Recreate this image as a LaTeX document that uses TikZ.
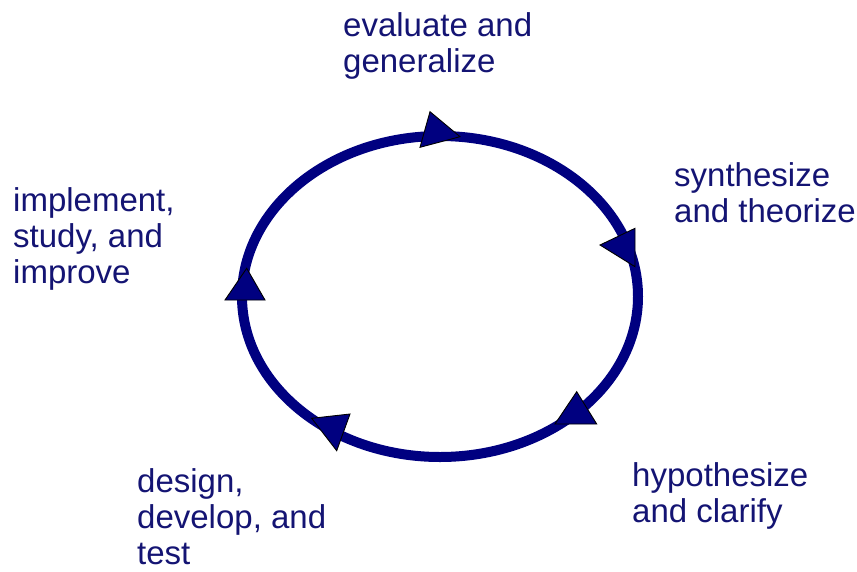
\documentclass[tikz,border=0pt]{standalone}
\usepackage{fontspec}
\setmainfont{Liberation Sans}
\definecolor{cyclenavy}{RGB}{0,0,128}
\definecolor{textnavy}{RGB}{20,20,115}
\begin{document}
\begin{tikzpicture}[x=1pt,y=-1pt,
  lbl/.style={anchor=base west,inner sep=0pt,align=left,text=textnavy,
    font=\fontsize{33pt}{36pt}\selectfont},
  tri/.style={fill=cyclenavy,draw=black,line width=0.9pt,line join=miter}]
\useasboundingbox (0,0) rectangle (857,571);
% cycle
\draw[cyclenavy,line width=10pt] (440,296.5) ellipse [x radius=198pt, y radius=160.5pt];
% arrowheads
\filldraw[tri] (430,111.7) -- (460,136.7) -- (420,147.3) -- cycle;
\filldraw[tri] (635,228.3) -- (635,266.7) -- (600,245) -- cycle;
\filldraw[tri] (576.7,391.7) -- (596.7,424) -- (555,424) -- cycle;
\filldraw[tri] (311.7,418.3) -- (350,414) -- (336.7,450.7) -- cycle;
\filldraw[tri] (246.7,268.3) -- (265,300) -- (225,300) -- cycle;
% labels (anchor is baseline of the last line)
\node[lbl] (eval) at (343,72.7) {evaluate and\\generalize};
\node[lbl] (synth) at (674,222.7) {synthesize\\and theorize};
\node[lbl] (hypo) at (632,522.7) {hypothesize\\and clarify};
\node[lbl] (design) at (137,564) {design,\\develop, and\\test};
\node[lbl] (impl) at (13,283.7) {implement,\\study, and\\improve};
\end{tikzpicture}
\end{document}
